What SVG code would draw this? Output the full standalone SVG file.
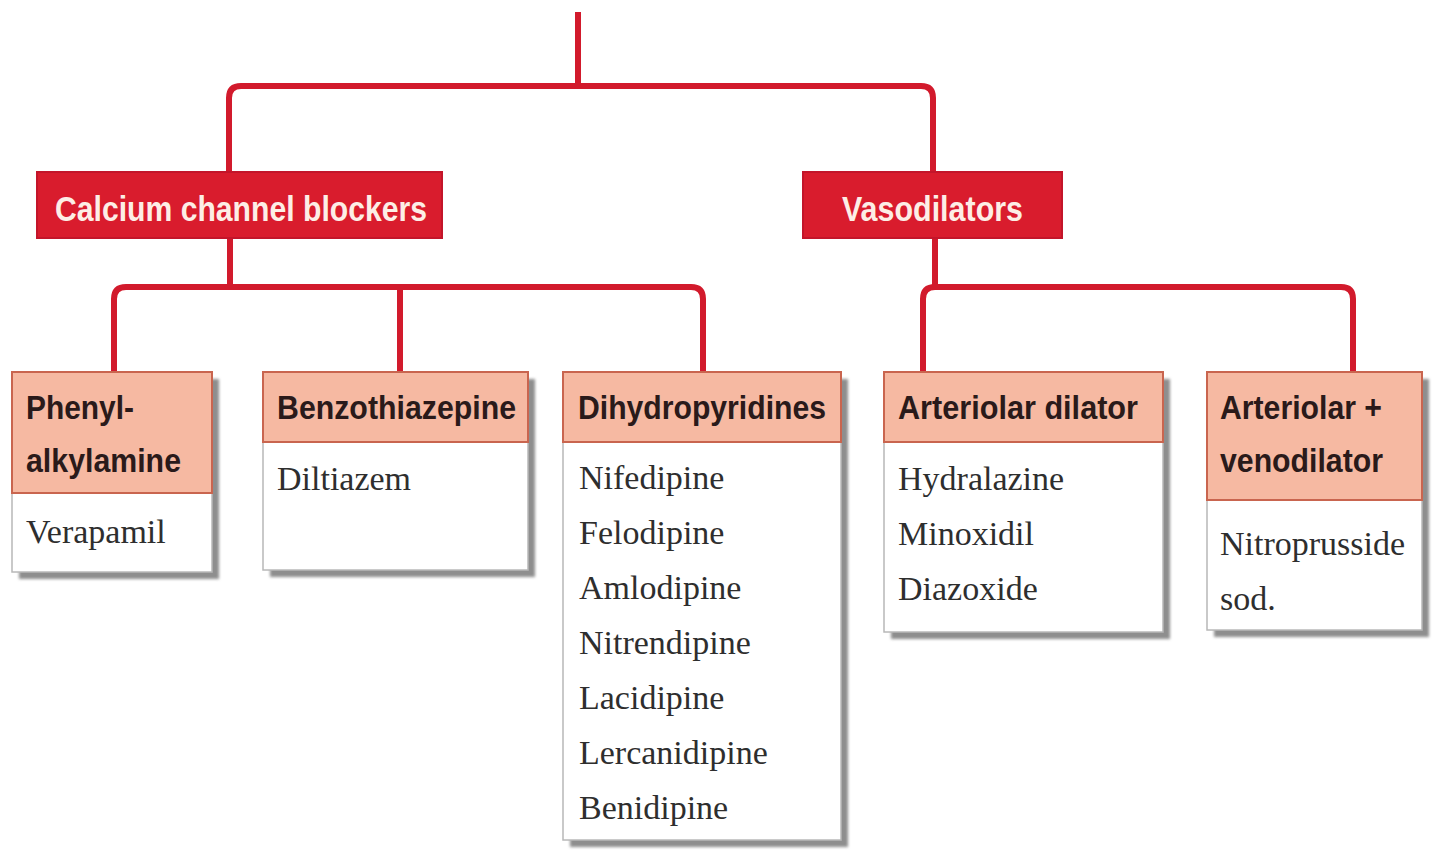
<svg xmlns="http://www.w3.org/2000/svg" width="1434" height="850" viewBox="0 0 1434 850">
  <defs>
    <filter id="sh" x="-10%" y="-10%" width="130%" height="130%">
      <feGaussianBlur stdDeviation="1.5"/>
    </filter>
    <style>
      .conn { fill: none; stroke: #d21a2c; stroke-width: 6; stroke-linejoin: round; }
      .cat { fill: #d91c2d; stroke: #c3152a; stroke-width: 2; }
      .cattxt { font-family: "Liberation Sans", Arial, sans-serif; font-weight: bold; font-size: 35px; fill: #fdeee6; }
      .shadow { fill: #8e8e8e; filter: url(#sh); }
      .body { fill: #ffffff; stroke: #b8b8b8; stroke-width: 1.5; }
      .head { fill: #f6b9a2; stroke: #c9654f; stroke-width: 2; }
      .htxt { font-family: "Liberation Sans", Arial, sans-serif; font-weight: bold; font-size: 33px; fill: #2a1a1a; }
      .btxt { font-family: "Liberation Serif", "Times New Roman", serif; font-size: 34px; fill: #2e2e2e; }
    </style>
  </defs>
  <rect width="1434" height="850" fill="#ffffff"/>

  <g id="connectors">
    <path class="conn" d="M578,12 V86"/>
    <path class="conn" d="M229,172 V98 Q229,86 241,86 H921 Q933,86 933,98 V172"/>
    <path class="conn" d="M230,238 V287"/>
    <path class="conn" d="M114,372 V299 Q114,287 126,287 H691 Q703,287 703,299 V372"/>
    <path class="conn" d="M400,287 V372"/>
    <path class="conn" d="M935,238 V287"/>
    <path class="conn" d="M923,372 V299 Q923,287 935,287 H1341 Q1353,287 1353,299 V372"/>
  </g>

  <g id="ccb">
    <rect class="cat" x="37" y="172" width="405" height="66"/>
    <text class="cattxt" x="55" y="221" textLength="372" lengthAdjust="spacingAndGlyphs">Calcium channel blockers</text>
  </g>

  <g id="vasodilators">
    <rect class="cat" x="803" y="172" width="259" height="66"/>
    <text class="cattxt" x="842" y="221" textLength="181" lengthAdjust="spacingAndGlyphs">Vasodilators</text>
  </g>

  <g id="phenylalkylamine">
    <rect class="shadow" x="19" y="379" width="200" height="200"/>
    <rect class="body" x="12" y="372" width="200" height="200"/>
    <rect class="head" x="12" y="372" width="200" height="121"/>
    <text class="htxt" x="26" y="419" textLength="108" lengthAdjust="spacingAndGlyphs">Phenyl-</text>
    <text class="htxt" x="26" y="472" textLength="155" lengthAdjust="spacingAndGlyphs">alkylamine</text>
    <text class="btxt" x="26" y="543">Verapamil</text>
  </g>

  <g id="benzothiazepine">
    <rect class="shadow" x="270" y="379" width="265" height="198"/>
    <rect class="body" x="263" y="372" width="265" height="198"/>
    <rect class="head" x="263" y="372" width="265" height="70"/>
    <text class="htxt" x="277" y="419" textLength="239" lengthAdjust="spacingAndGlyphs">Benzothiazepine</text>
    <text class="btxt" x="277" y="490">Diltiazem</text>
  </g>

  <g id="dihydropyridines">
    <rect class="shadow" x="570" y="379" width="278" height="468"/>
    <rect class="body" x="563" y="372" width="278" height="468"/>
    <rect class="head" x="563" y="372" width="278" height="70"/>
    <text class="htxt" x="578" y="419" textLength="248" lengthAdjust="spacingAndGlyphs">Dihydropyridines</text>
    <text class="btxt" x="579" y="489">Nifedipine</text>
    <text class="btxt" x="579" y="544">Felodipine</text>
    <text class="btxt" x="579" y="599">Amlodipine</text>
    <text class="btxt" x="579" y="654">Nitrendipine</text>
    <text class="btxt" x="579" y="709">Lacidipine</text>
    <text class="btxt" x="579" y="764">Lercanidipine</text>
    <text class="btxt" x="579" y="819">Benidipine</text>
  </g>

  <g id="arteriolar-dilator">
    <rect class="shadow" x="891" y="379" width="279" height="260"/>
    <rect class="body" x="884" y="372" width="279" height="260"/>
    <rect class="head" x="884" y="372" width="279" height="70"/>
    <text class="htxt" x="898" y="419" textLength="240" lengthAdjust="spacingAndGlyphs">Arteriolar dilator</text>
    <text class="btxt" x="898" y="490">Hydralazine</text>
    <text class="btxt" x="898" y="545">Minoxidil</text>
    <text class="btxt" x="898" y="600">Diazoxide</text>
  </g>

  <g id="arteriolar-venodilator">
    <rect class="shadow" x="1214" y="379" width="215" height="258"/>
    <rect class="body" x="1207" y="372" width="215" height="258"/>
    <rect class="head" x="1207" y="372" width="215" height="128"/>
    <text class="htxt" x="1220" y="419" textLength="162" lengthAdjust="spacingAndGlyphs">Arteriolar +</text>
    <text class="htxt" x="1220" y="472" textLength="163" lengthAdjust="spacingAndGlyphs">venodilator</text>
    <text class="btxt" x="1220" y="555">Nitroprusside</text>
    <text class="btxt" x="1220" y="610">sod.</text>
  </g>
</svg>
